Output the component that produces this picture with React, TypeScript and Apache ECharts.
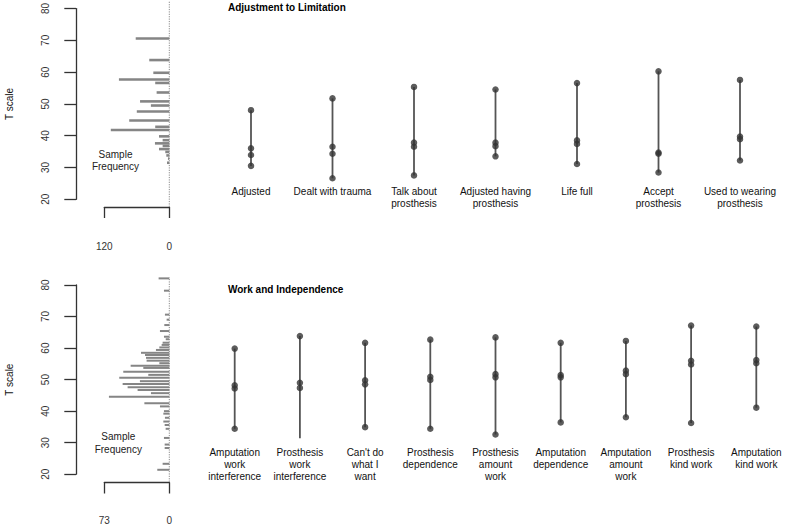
import React, { useEffect, useRef } from 'react';
import * as echarts from 'echarts';

const FONT = '"Liberation Sans", Arial, Helvetica, sans-serif';

// ---------- Top panel: Adjustment to Limitation ----------
const topTitle = 'Adjustment to Limitation';
const topCats = [
  'Adjusted',
  'Dealt with trauma',
  'Talk about\nprosthesis',
  'Adjusted having\nprosthesis',
  'Life full',
  'Accept\nprosthesis',
  'Used to wearing\nprosthesis',
];
const topHigh = [48.0, 51.7, 55.3, 54.5, 56.5, 60.2, 57.5];
const topMidA = [36.0, 36.5, 37.8, 37.8, 38.5, 34.7, 39.7];
const topMidB = [33.9, 34.3, 36.5, 36.7, 37.4, 34.3, 38.9];
const topLow = [30.5, 26.6, 27.5, 33.5, 31.1, 28.4, 32.2];
const topLowMarked = [true, true, true, true, true, true, true];

const topHistT = [70.6, 63.8, 59.8, 57.7, 56.6, 53.6, 50.8, 49.5, 47.6, 44.8, 42.8, 41.8, 39.8, 38.6, 37.6, 36.8, 35.8, 34.9, 33.8, 32.8, 31.5];
const topHistFreq = [62, 37, 29.5, 93, 26, 23.4, 54, 34, 60, 74, 26, 108, 19, 12.3, 26.5, 12.3, 19, 7.4, 5.5, 2.5, 4.3];
const topFreqMax = 120;

// ---------- Bottom panel: Work and Independence ----------
const botTitle = 'Work and Independence';
const botCats = [
  'Amputation\nwork\ninterference',
  'Prosthesis\nwork\ninterference',
  "Can't do\nwhat I\nwant",
  'Prosthesis\ndependence',
  'Prosthesis\namount\nwork',
  'Amputation\ndependence',
  'Amputation\namount\nwork',
  'Prosthesis\nkind work',
  'Amputation\nkind work',
];
const botHigh = [60.1, 64.0, 61.9, 62.9, 63.6, 61.9, 62.5, 67.3, 67.0];
const botMidA = [48.6, 49.4, 50.2, 51.3, 52.1, 51.8, 53.2, 56.3, 56.5];
const botMidB = [47.6, 47.8, 48.9, 50.3, 51.1, 51.1, 52.1, 55.1, 55.5];
const botLow = [35.0, 32.0, 35.5, 35.0, 33.2, 37.0, 38.6, 36.8, 41.6];
const botLowMarked = [true, false, true, true, true, true, true, true, true];

const botHistT = [82.1, 78.2, 70.6, 69, 67.3, 65.4, 63.6, 62.8, 61.7, 61, 60.2, 59.4, 58.5, 57.8, 56.9, 56, 55.2, 54.4, 53.7, 52.5, 51.5, 50.6, 49.5, 48.6, 47.6, 46.7, 45.7, 44.6, 42.5, 41.5, 40, 39.2, 37.9, 36.7, 35.6, 34.4, 31.5, 29.4, 28.3, 23.3, 21.4];
const botHistFreq = [12, 6, 4.9, 3, 5.6, 10.5, 6, 4, 7.5, 8.6, 11.2, 15, 31.8, 27.3, 26.2, 25.5, 11.2, 43.4, 29.2, 51.7, 23.6, 56.2, 33, 52.4, 46.8, 35.6, 20.6, 67.8, 28, 10.5, 6, 6.7, 4.9, 6.7, 5.2, 4.1, 6, 5.2, 5.2, 7.5, 13.5];
const botFreqMax = 73;

const T_MIN = 20;
const T_MAX = 80;
const T_PAD = 2.4;

const AXIS_COLOR = '#333';
const BAR_COLOR = '#858585';
const RANGE_COLOR = '#555';
const DOT_COLOR = '#333';

function histSeries(xi: number, T: number[], F: number[], width: number) {
  return {
    type: 'custom',
    xAxisIndex: xi,
    yAxisIndex: xi,
    clip: false,
    encode: { x: 0, y: 1 },
    data: F.map((f, i) => [f, T[i]]),
    renderItem: (params: any, api: any) => {
      const p0 = api.coord([0, api.value(1)]);
      const p1 = api.coord([api.value(0), api.value(1)]);
      return {
        type: 'line',
        shape: { x1: p0[0], y1: p0[1], x2: p1[0], y2: p1[1] },
        style: { stroke: BAR_COLOR, lineWidth: width },
      };
    },
  };
}

function baselineSeries(xi: number) {
  return {
    type: 'custom',
    xAxisIndex: xi,
    yAxisIndex: xi,
    clip: false,
    encode: { x: 0, y: [1, 2] },
    data: [[0, T_MIN - T_PAD, T_MAX + T_PAD]],
    renderItem: (params: any, api: any) => {
      const p0 = api.coord([api.value(0), api.value(1)]);
      const p1 = api.coord([api.value(0), api.value(2)]);
      return {
        type: 'line',
        shape: { x1: p0[0], y1: p0[1], x2: p1[0], y2: p1[1] },
        style: { stroke: '#8a8a8a', lineWidth: 1, lineDash: [1.2, 1.2] },
      };
    },
  };
}

function rangeSeries(xi: number, low: number[], high: number[]) {
  return {
    type: 'custom',
    xAxisIndex: xi,
    yAxisIndex: xi,
    clip: false,
    encode: { x: 0, y: [1, 2] },
    data: low.map((l, i) => [i, l, high[i]]),
    renderItem: (params: any, api: any) => {
      const p0 = api.coord([api.value(0), api.value(1)]);
      const p1 = api.coord([api.value(0), api.value(2)]);
      return {
        type: 'line',
        shape: { x1: p0[0], y1: p0[1], x2: p1[0], y2: p1[1] },
        style: { stroke: RANGE_COLOR, lineWidth: 1.8 },
      };
    },
  };
}

function dotSeries(xi: number, high: number[], a: number[], b: number[], low: number[], lowMarked: boolean[]) {
  const data: number[][] = [];
  high.forEach((h, i) => {
    data.push([i, h]);
    data.push([i, a[i]]);
    data.push([i, b[i]]);
    if (lowMarked[i]) data.push([i, low[i]]);
  });
  return {
    type: 'scatter',
    xAxisIndex: xi,
    yAxisIndex: xi,
    clip: false,
    symbol: 'circle',
    symbolSize: 6.5,
    itemStyle: { color: DOT_COLOR },
    data,
  };
}

function tAxis(gi: number, show: boolean) {
  return {
    type: 'value',
    gridIndex: gi,
    min: T_MIN,
    max: T_MAX,
    interval: 10,
    show,
    position: 'left',
    offset: 28.3,
    name: show ? 'T scale' : '',
    nameLocation: 'middle',
    nameRotate: 90,
    nameGap: 62,
    nameTextStyle: { fontSize: 10, color: '#111', fontFamily: FONT },
    axisLine: { show: true, onZero: false, lineStyle: { color: AXIS_COLOR, width: 1.3 } },
    axisTick: { show: true, length: 11.7, lineStyle: { color: AXIS_COLOR, width: 1.3 } },
    axisLabel: { rotate: 90, margin: 26, fontSize: 10, color: '#333', fontFamily: FONT },
    splitLine: { show: false },
  };
}

function freqAxis(gi: number, max: number, offset: number, margin: number) {
  return {
    type: 'value',
    gridIndex: gi,
    inverse: true,
    min: 0,
    max,
    interval: max,
    position: 'bottom',
    offset,
    axisLine: { show: true, onZero: false, lineStyle: { color: AXIS_COLOR, width: 1.3 } },
    axisTick: { show: true, length: 11, lineStyle: { color: AXIS_COLOR, width: 1.3 } },
    axisLabel: { margin, fontSize: 10, color: '#333', fontFamily: FONT },
    splitLine: { show: false },
  };
}

function catAxis(gi: number, cats: string[], offset: number, lineHeight: number) {
  return {
    type: 'category',
    gridIndex: gi,
    data: cats,
    position: 'bottom',
    offset,
    axisLine: { show: false, onZero: false },
    axisTick: { show: false },
    splitLine: { show: false },
    axisLabel: { interval: 0, margin: 0, fontSize: 10, lineHeight, color: '#111', fontFamily: FONT, align: 'center' },
  };
}

export default function App() {
  const ref = useRef<HTMLDivElement>(null);
  useEffect(() => {
    document.body.style.margin = '0';
    const chart = echarts.init(ref.current!, null, { renderer: 'svg' });
    const option: any = {
      animation: false,
      backgroundColor: '#ffffff',
      textStyle: { fontFamily: FONT },
      title: [
        { text: topTitle, left: 228, top: 2, padding: 0, textStyle: { fontSize: 10, fontWeight: 'bold', color: '#000', fontFamily: FONT } },
        { text: botTitle, left: 228, top: 284.5, padding: 0, textStyle: { fontSize: 10, fontWeight: 'bold', color: '#000', fontFamily: FONT } },
      ],
      grid: [
        { left: 104.3, top: 8.3, width: 65, height: 191 },
        { left: 210.25, top: 8.3, width: 570.5, height: 191 },
        { left: 104.3, top: 285, width: 65, height: 191.7 },
        { left: 202.1, top: 285, width: 586.8, height: 191.7 },
      ],
      xAxis: [
        freqAxis(0, topFreqMax, 7.7, 34),
        catAxis(1, topCats, -13.3, 11.6),
        freqAxis(2, botFreqMax, 8.3, 32.5),
        catAxis(3, botCats, -30.8, 12.3),
      ],
      yAxis: [tAxis(0, true), tAxis(1, false), tAxis(2, true), tAxis(3, false)],
      graphic: [
        {
          type: 'text', x: 115.5, y: 160.5,
          style: { text: 'Sample\nFrequency', align: 'center', verticalAlign: 'middle', fontSize: 10, lineHeight: 12.4, fill: '#222', fontFamily: FONT },
        },
        {
          type: 'text', x: 118.3, y: 443,
          style: { text: 'Sample\nFrequency', align: 'center', verticalAlign: 'middle', fontSize: 10, lineHeight: 12.6, fill: '#222', fontFamily: FONT },
        },
      ],
      series: [
        baselineSeries(0),
        histSeries(0, topHistT, topHistFreq, 2.6),
        rangeSeries(1, topLow, topHigh),
        dotSeries(1, topHigh, topMidA, topMidB, topLow, topLowMarked),
        baselineSeries(2),
        histSeries(2, botHistT, botHistFreq, 2),
        rangeSeries(3, botLow, botHigh),
        dotSeries(3, botHigh, botMidA, botMidB, botLow, botLowMarked),
      ],
    };
    chart.setOption(option);
    return () => chart.dispose();
  }, []);
  return <div ref={ref} style={{ width: 800, height: 525 }} />;
}
